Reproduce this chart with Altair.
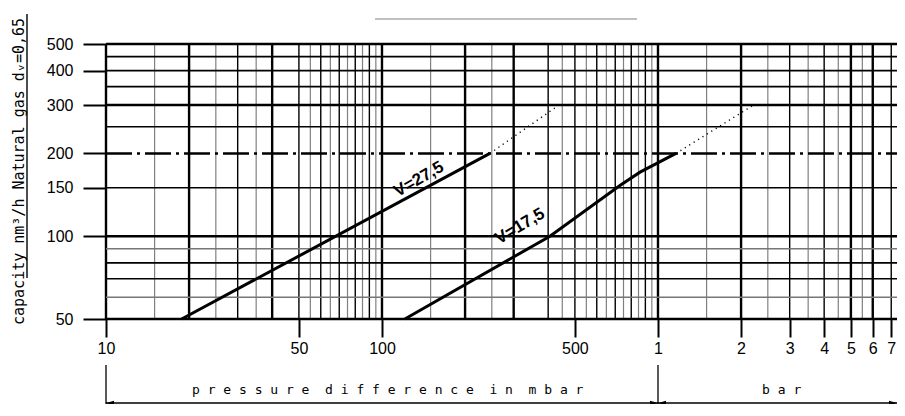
import altair as alt
import pandas as pd

# ---------------- data ----------------
# vertical grid lines (pressure difference, mbar)
v_thick = [10, 20, 40, 100, 200, 300, 1000, 2000, 5000, 6000]
v_black = [30, 50, 60, 70, 80, 90, 400, 500, 600, 700, 800, 900,
           3000, 4000, 7000, 8000, 9000]
v_grey = [15, 25, 35, 55, 65, 75, 85, 95, 150, 250, 450, 550, 650, 750,
          850, 950, 1500, 2500, 3500, 4500, 5500, 7500, 8500]

# horizontal grid lines (capacity nm3/h)
h_thick = [50, 100, 300, 500]
h_black = [70, 80, 150, 250, 350, 400, 450]
h_grey = [60, 90]
h_dashdot = [200]

# curves
v275_x = [18.8, 246]
v275_y = [50, 200]
v275_dot_x = [246, 442]
v275_dot_y = [200, 302]
v175_x = [121, 406, 728, 861, 1162]
v175_y = [50, 100, 153, 171, 200]
v175_dot_x = [1162, 2244]
v175_dot_y = [200, 302]

curve_labels = ["V=27,5", "V=17,5"]
label_x = [136, 316]
label_y = [161, 108.7]
label_angle = [330, 329]

x_ticks = [10, 50, 100, 500, 1000, 2000, 3000, 4000, 5000, 6000, 7000]
y_ticks = [50, 100, 150, 200, 300, 400, 500]

y_title = "capacity nm³/h Natural gas dᵥ=0,65"
NB = "\u00a0"
x_title_mbar = (NB * 2).join(NB.join(w) for w in ["pressure", "difference", "in", "mbar"])
x_title_bar = NB.join("bar")

X_MAX = 7345  # right edge of the visible plot

# ---------------- scales / axes ----------------
xs = alt.Scale(type="log", domain=[10, X_MAX], nice=False)
ys = alt.Scale(type="log", domain=[50, 500], nice=False)

xax = alt.Axis(
    values=x_ticks, grid=False, domain=False, ticks=True, tickSize=18,
    tickWidth=2, tickColor="#000", labelFont="Liberation Sans",
    labelFontSize=16, labelColor="#000", labelPadding=3,
    labelOverlap=False, labelFlush=False, labelBound=False,
    labelExpr="datum.value >= 1000 ? format(datum.value/1000, 'd') : format(datum.value, 'd')",
    title=None)
yax = alt.Axis(
    values=y_ticks, grid=False, domain=False, ticks=True, tickSize=23,
    tickWidth=2, tickColor="#000", labelFont="Liberation Sans",
    labelFontSize=16, labelColor="#000", labelPadding=10,
    labelOverlap=False, labelFlush=False, format="d", title=None)

# ---------------- tables ----------------
vdf = pd.DataFrame({
    "p": v_thick + v_black + v_grey,
    "w": [2.4] * len(v_thick) + [1.4] * len(v_black) + [1.2] * len(v_grey),
    "c": ["#000"] * len(v_thick) + ["#000"] * len(v_black) + ["#808080"] * len(v_grey),
})
vdf["y0"] = 50
vdf["y1"] = 500

hdf = pd.DataFrame({
    "q": h_thick + h_black + h_grey,
    "w": [2.6] * len(h_thick) + [1.6] * len(h_black) + [1.4] * len(h_grey),
    "c": ["#000"] * len(h_thick) + ["#000"] * len(h_black) + ["#777"] * len(h_grey),
})
hdf["x0"] = 10
hdf["x1"] = X_MAX

vgrid = alt.Chart(vdf).mark_rule().encode(
    x=alt.X("p:Q", scale=xs, axis=xax),
    y=alt.Y("y0:Q", scale=ys, axis=yax),
    y2="y1:Q",
    color=alt.Color("c:N", scale=None),
    strokeWidth=alt.StrokeWidth("w:Q", scale=None),
)

hgrid = alt.Chart(hdf).mark_rule().encode(
    y=alt.Y("q:Q", scale=ys, axis=yax),
    x=alt.X("x0:Q", scale=xs, axis=xax),
    x2="x1:Q",
    color=alt.Color("c:N", scale=None),
    strokeWidth=alt.StrokeWidth("w:Q", scale=None),
)

dd = alt.Chart(pd.DataFrame({"q": h_dashdot, "x0": [10], "x1": [X_MAX]})).mark_rule(
    color="#000", strokeWidth=2.4, strokeDash=[26, 5, 3, 5]
).encode(
    y=alt.Y("q:Q", scale=ys, axis=yax),
    x=alt.X("x0:Q", scale=xs, axis=xax),
    x2="x1:Q",
)

def curve(xv, yv, dotted=False):
    df = pd.DataFrame({"x": xv, "y": yv, "o": list(range(len(xv)))})
    if dotted:
        m = alt.Chart(df).mark_line(color="#000", strokeWidth=1.4, strokeDash=[1.2, 4])
    else:
        m = alt.Chart(df).mark_line(color="#000", strokeWidth=3)
    return m.encode(
        x=alt.X("x:Q", scale=xs, axis=xax),
        y=alt.Y("y:Q", scale=ys, axis=yax),
        order="o:Q",
    )

labels = alt.Chart(pd.DataFrame({
    "t": curve_labels, "x": label_x, "y": label_y, "a": label_angle
})).mark_text(font="Liberation Sans", fontSize=17, fontWeight="bold",
              color="#000", align="center", baseline="middle").encode(
    x=alt.X("x:Q", scale=xs, axis=xax),
    y=alt.Y("y:Q", scale=ys, axis=yax),
    text="t:N",
    angle=alt.Angle("a:Q", scale=None),
)

# y title with underline
ytitle = alt.Chart(pd.DataFrame({"t": [y_title]})).mark_text(
    font="DejaVu Sans Mono", fontSize=15, color="#000", angle=270,
    align="left", baseline="alphabetic"
).encode(x=alt.value(-82), y=alt.value(281), text="t:N")

yline = alt.Chart(pd.DataFrame({"a": [0]})).mark_rule(color="#000", strokeWidth=1.4).encode(
    x=alt.value(-79), y=alt.value(-30), y2=alt.value(234))

# decorative grey line above the plot
topline = alt.Chart(pd.DataFrame({"a": [0]})).mark_rule(color="#c0c0c0", strokeWidth=2).encode(
    y=alt.value(-25), x=alt.value(269), x2=alt.value(531))

# bracket below the axis
bdf = pd.DataFrame({"p": [10, 1000]})
bvert = alt.Chart(bdf).mark_rule(color="#000", strokeWidth=1.3).encode(
    x=alt.X("p:Q", scale=xs, axis=xax), y=alt.value(321), y2=alt.value(360))

bh = pd.DataFrame({"a": [10, 1000], "b": [1000, X_MAX]})
bhor = alt.Chart(bh).mark_rule(color="#000", strokeWidth=1.3).encode(
    x=alt.X("a:Q", scale=xs, axis=xax), x2="b:Q", y=alt.value(359))

left_arrow = "M0,0L2,-0.55L2,0.55Z"
right_arrow = "M0,0L-2,-0.55L-2,0.55Z"
adf = pd.DataFrame({"p": [10, 1000, 1000, X_MAX],
                    "s": [left_arrow, right_arrow, left_arrow, right_arrow]})
arrows = alt.Chart(adf).mark_point(filled=True, size=64, color="#000", opacity=1).encode(
    x=alt.X("p:Q", scale=xs, axis=xax), y=alt.value(359),
    shape=alt.Shape("s:N", scale=None))

tdf = pd.DataFrame({"t": [x_title_mbar, x_title_bar], "p": [20.5, 2383]})
btext = alt.Chart(tdf).mark_text(font="DejaVu Sans Mono", fontSize=13, color="#000",
                                 align="left", baseline="alphabetic").encode(
    x=alt.X("p:Q", scale=xs, axis=xax), y=alt.value(350), text="t:N")

chart = alt.layer(
    vgrid, hgrid, dd,
    curve(v275_x, v275_y), curve(v275_dot_x, v275_dot_y, True),
    curve(v175_x, v175_y), curve(v175_dot_x, v175_dot_y, True),
    labels, ytitle, yline, topline, bvert, bhor, arrows, btext,
).properties(
    width=791, height=275,
    autosize=alt.AutoSizeParams(type="none"),
    padding={"left": 98, "top": 36, "right": 0, "bottom": 85},
).configure_view(stroke=None).configure(background="white")

chart.save("out.html", embed_options={"renderer": "svg", "actions": False})
